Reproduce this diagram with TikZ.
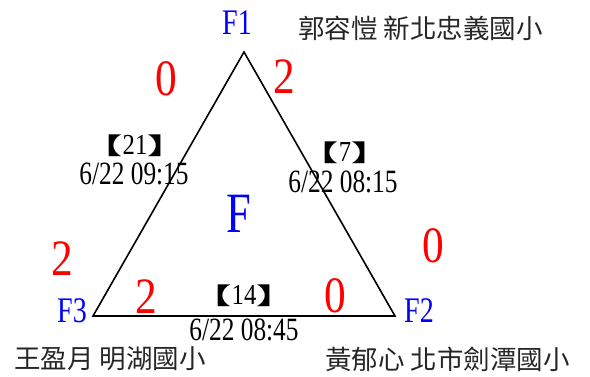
\documentclass[tikz,border=0pt]{standalone}
\usepackage{fontspec}
\setmainfont{Liberation Serif}[FakeStretch=0.78]
\newfontfamily\redf{Liberation Serif}[FakeStretch=0.85]
\newfontfamily\cjk{Noto Sans CJK TC}
\newcommand{\lbr}{{\cjk\fontsize{23}{24}\selectfont\bfseries\scalebox{1.7}[1]{【}}}
\newcommand{\rbr}{{\cjk\fontsize{23}{24}\selectfont\bfseries\scalebox{1.7}[1]{】}}}
\begin{document}
\begin{tikzpicture}[x=1pt,y=-1pt,
  lbl/.style={inner sep=0pt, anchor=base},
  score/.style={lbl, text=red, font=\redf\fontsize{51}{53}\selectfont},
  vtx/.style={lbl, text=blue, font=\fontsize{36}{38}\selectfont},
  dt/.style={lbl, text=black, font=\fontsize{32.5}{34}\selectfont},
  gm/.style={lbl, text=black, font=\redf\fontsize{29}{31}\selectfont},
  nm/.style={inner sep=0pt, anchor=west, text=black!85, font=\cjk\fontsize{26.5}{28}\selectfont},
  edge/.style={line width=1.6pt, line join=miter}]
\useasboundingbox (0,0) rectangle (590,376);
\coordinate (A) at (244,52);
\coordinate (B) at (395,316);
\coordinate (C) at (93,316);
\draw[edge] (A) -- (B) -- (C) -- cycle;
% vertex labels
\node[vtx] (F1) at (237,34) {F1};
\node[vtx] (F2) at (419,322) {F2};
\node[vtx] (F3) at (72,322) {F3};
\node[lbl, text=blue, font=\fontsize{57}{59}\selectfont] (F) at (239,232) {F};
% names
\node[nm] (n1) at (298,28.5) {郭容愷 新北忠義國小};
\node[nm] (n3) at (14,359) {王盈月 明湖國小};
\node[nm] (n2) at (325,359) {黃郁心 北市劍潭國小};
% scores
\node[score] (s1) at (166,95) {0};
\node[score] (s2) at (284,93) {2};
\node[score] (s3) at (62,275) {2};
\node[score] (s4) at (433,262) {0};
\node[score] (s5) at (146,313) {2};
\node[score] (s6) at (335,312) {0};
% game info
\node[gm] (g1) at (135,154) {\lbr21\rbr};
\node[dt] (d1) at (134,184) {6/22 09:15};
\node[gm] (g2) at (345,161) {\lbr7\rbr};
\node[dt] (d2) at (343,192) {6/22 08:15};
\node[gm] (g3) at (244,304) {\lbr14\rbr};
\node[dt] (d3) at (244,340) {6/22 08:45};
\end{tikzpicture}
\end{document}
